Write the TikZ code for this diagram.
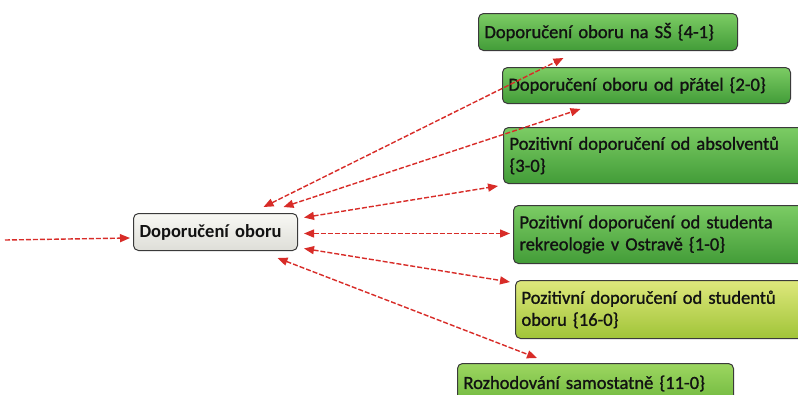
\documentclass[tikz,border=0pt]{standalone}
\usepackage{fontspec}
\setmainfont{Carlito}
\newfontfamily\topicfont[FakeBold=1.2]{Carlito}
\usetikzlibrary{arrows.meta}
\definecolor{linkred}{RGB}{216,44,40}
\definecolor{boxline}{RGB}{58,58,58}
\definecolor{boxtext}{RGB}{18,18,18}
\tikzset{
  topic/.style={draw=boxline, line width=1pt, rounded corners=5pt,
    anchor=north west, inner xsep=6pt, inner ysep=2pt, align=left,
    text=boxtext, font=\fontsize{18.5}{22}\topicfont},
  greenbox/.style={topic, top color={rgb,255:red,124;green,204;blue,100},
    bottom color={rgb,255:red,66;green,156;blue,56}},
  limebox/.style={topic, top color={rgb,255:red,222;green,232;blue,124},
    bottom color={rgb,255:red,160;green,196;blue,56}},
  leafbox/.style={topic, top color={rgb,255:red,156;green,214;blue,96},
    bottom color={rgb,255:red,112;green,184;blue,62}},
  centrebox/.style={topic, top color={rgb,255:red,248;green,248;blue,244},
    bottom color={rgb,255:red,222;green,222;blue,216},
    font=\fontsize{18.5}{22}\selectfont\bfseries},
  link/.style={draw=linkred, line width=1.4pt, dash pattern=on 5pt off 2pt,
    {Triangle[length=10pt,width=8pt]}-{Triangle[length=10pt,width=8pt]}},
  inlink/.style={draw=linkred, line width=1.4pt, dash pattern=on 5pt off 2pt,
    -{Triangle[length=10pt,width=8pt]}}
}
\begin{document}
\begin{tikzpicture}[x=1pt,y=-1pt]
\clip (0,0) rectangle (798,394);
\fill[white] (0,0) rectangle (798,394);

% central topic and its neighbours
\node[centrebox, minimum width=164pt, minimum height=37pt, text width=152pt]
  (main) at (133,213) {Doporučení oboru};
\node[greenbox, minimum width=259pt, minimum height=37pt, text width=247pt]
  (ss) at (478,13) {Doporučení oboru na SŠ \{4-1\}};
\node[greenbox, minimum width=288pt, minimum height=36pt, text width=276pt]
  (friends) at (502,67) {Doporučení oboru od přátel \{2-0\}};
\node[greenbox, minimum width=310pt, minimum height=56pt, text width=298pt]
  (alumni) at (503,127) {Pozitivní doporučení od absolventů\\\{3-0\}};
\node[greenbox, minimum width=300pt, minimum height=58pt, text width=288pt]
  (ostrava) at (513,205) {Pozitivní doporučení od studenta\\rekreologie v Ostravě \{1-0\}};
\node[limebox, minimum width=300pt, minimum height=58pt, text width=288pt]
  (students) at (515,280) {Pozitivní doporučení od studentů\\oboru \{16-0\}};
\node[leafbox, minimum width=276pt, minimum height=40pt, text width=264pt]
  (alone) at (457,363) {Rozhodování samostatně \{11-0\}};

\coordinate (source) at (5,240);

% connectors
\draw[inlink] (source) -- ([shift={(-3,6)}]main.west);
\draw[link] ([shift={(48,-6)}]main.north) -- ([shift={(-44.5,7)}]ss.south);
\draw[link] ([shift={(68,-6)}]main.north) -- ([shift={(-66,5)}]friends.south);
\draw[link] ([shift={(6,-14.5)}]main.east) -- ([shift={(-5,2)}]alumni.south west);
\draw[link] ([shift={(6,1.5)}]main.east) -- ([shift={(-3,-1)}]ostrava.west);
\draw[link] ([shift={(6,16.5)}]main.east) -- ([shift={(-5,2)}]students.north west);
\draw[link] ([shift={(62,7)}]main.south) -- ([shift={(80,-5)}]alone.north west);
\end{tikzpicture}
\end{document}
